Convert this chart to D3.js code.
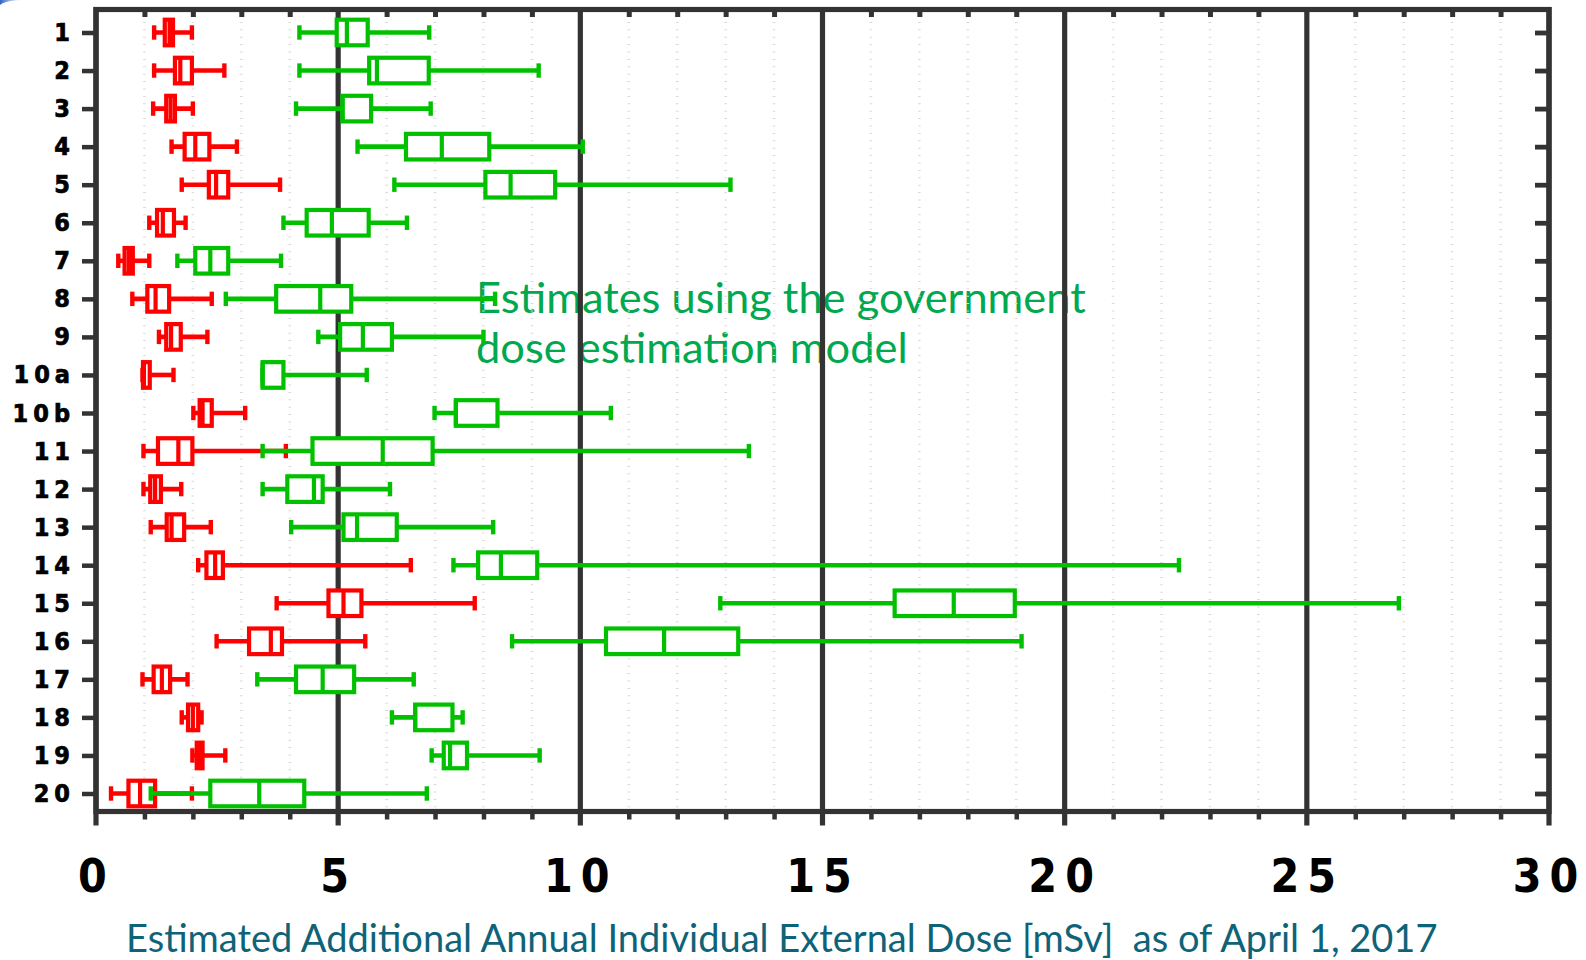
<!DOCTYPE html>
<html>
<head>
<meta charset="utf-8">
<script src="https://cdn.jsdelivr.net/npm/d3@7"></script>
<style>
  body { margin: 0; background: #ffffff; }
  svg { display: block; }
</style>
</head>
<body>
<svg id="chart" width="1586" height="960"></svg>
<script>
// Areas (rows, top to bottom)
const areas = ["1","2","3","4","5","6","7","8","9","10a","10b","11","12","13","14","15","16","17","18","19","20"];

// Red series: measured doses [mSv] — whisker low, Q1, median, Q3, whisker high
const measuredMin = [1.20,1.20,1.18,1.56,1.77,1.10,0.46,0.75,1.30,0.96,2.01,0.98,0.98,1.13,2.11,3.73,2.49,0.96,1.77,1.99,0.31];
const measuredQ1  = [1.42,1.63,1.45,1.83,2.33,1.26,0.59,1.06,1.45,0.97,2.14,1.28,1.12,1.46,2.28,4.80,3.16,1.19,1.90,2.08,0.67];
const measuredMed = [1.52,1.74,1.54,2.05,2.48,1.38,0.68,1.23,1.55,0.99,2.20,1.70,1.22,1.56,2.46,5.11,3.61,1.36,2.00,2.13,0.91];
const measuredQ3  = [1.59,1.98,1.63,2.34,2.73,1.61,0.76,1.51,1.75,1.11,2.39,1.99,1.34,1.82,2.62,5.48,3.84,1.53,2.11,2.20,1.22];
const measuredMax = [1.98,2.65,2.00,2.91,3.80,1.85,1.10,2.39,2.30,1.60,3.08,3.92,1.76,2.37,6.50,7.82,5.56,1.89,2.18,2.67,1.98];

// Green series: government dose estimation model [mSv]
const modelMin = [4.20,4.20,4.13,5.40,6.16,3.87,1.68,2.68,4.59,3.44,6.99,3.44,3.44,4.03,7.38,12.89,8.59,3.33,6.11,6.93,1.13];
const modelQ1  = [4.97,5.64,5.09,6.40,8.04,4.35,2.05,3.72,5.04,3.44,7.43,4.47,3.95,5.11,7.89,16.49,10.53,4.13,6.59,7.18,2.36];
const modelMed = [5.18,5.80,5.09,7.14,8.56,4.87,2.36,4.63,5.51,3.44,7.43,5.92,4.50,5.39,8.36,17.71,11.73,4.68,6.59,7.31,3.37];
const modelQ3  = [5.61,6.87,5.68,8.12,9.48,5.63,2.73,5.27,6.11,3.87,8.29,6.95,4.68,6.21,9.11,18.97,13.26,5.33,7.36,7.66,4.30];
const modelMax = [6.88,9.14,6.91,10.05,13.10,6.42,3.82,8.24,8.00,5.59,10.63,13.48,6.07,8.20,22.36,26.90,19.11,6.56,7.57,9.16,6.83];

// Axis ticks
const majorTicks = [0,5,10,15,20,25,30];
const minorTicks = d3.range(1,30).filter(v => v % 5 !== 0);

const annotationLines = ["Estimates using the government", "dose estimation model"];
const xTitle = "Estimated Additional Annual Individual External Dose [mSv]  as of April 1, 2017";

const svg = d3.select("#chart");
const frameTop = 9.5, frameBottom = 811.5;
const x = d3.scaleLinear().domain([0, 30]).range([96, 1549]);
const y = d3.scalePoint().domain(areas).range([32.5, 793.5]);

const frameColor = "#333333";
const red = "#ff0000", green = "#00c000";

// small blue corner accent
const defs = svg.append("defs");
const grad = defs.append("linearGradient").attr("id", "cornerGrad");
grad.append("stop").attr("offset", "0%").attr("stop-color", "#2f62c8");
grad.append("stop").attr("offset", "100%").attr("stop-color", "#9fc0ef").attr("stop-opacity", 0);
svg.append("path").attr("d", "M0,5 Q6,0 26,0 L0,0 Z").attr("fill", "url(#cornerGrad)");

// annotation text (sits beneath the grid)
const ann = svg.append("g").attr("font-family", "Lato, 'Open Sans', sans-serif")
  .attr("fill", "#00a84f");
const annText = ann.selectAll("text").data(annotationLines).join("text")
  .attr("x", 476)
  .attr("y", (d, i) => 313 + i * 50)
  .attr("font-size", 40)
  .text(d => d);
{
  const w = annText.nodes()[0].getComputedTextLength();
  annText.attr("font-size", 40 * 610 / w);
}

// dotted minor grid
svg.append("g").selectAll("line").data(minorTicks).join("line")
  .attr("x1", d => x(d)).attr("x2", d => x(d))
  .attr("y1", frameTop + 5).attr("y2", frameBottom - 3)
  .attr("stroke", "#d9d9d9").attr("stroke-width", 2.6)
  .attr("stroke-dasharray", "1 6.4");

// major grid lines, extending below the frame as ticks
svg.append("g").selectAll("line").data(majorTicks).join("line")
  .attr("x1", d => x(d)).attr("x2", d => x(d))
  .attr("y1", frameTop - 2.5).attr("y2", frameBottom + 14)
  .attr("stroke", frameColor).attr("stroke-width", 5.2);

// frame
svg.append("rect")
  .attr("x", x(0)).attr("y", frameTop)
  .attr("width", x(30) - x(0)).attr("height", frameBottom - frameTop)
  .attr("fill", "none").attr("stroke", frameColor).attr("stroke-width", 5.2);

// bottom minor ticks (outward)
svg.append("g").attr("transform", `translate(0,${frameBottom})`)
  .call(d3.axisBottom(x).tickValues(minorTicks).tickSize(8).tickFormat(""))
  .call(g => g.select(".domain").remove())
  .call(g => g.selectAll("line").attr("stroke", frameColor).attr("stroke-width", 4.5));

// top minor ticks (inward)
svg.append("g").attr("transform", `translate(0,${frameTop})`)
  .call(d3.axisBottom(x).tickValues(minorTicks).tickSize(7.5).tickFormat(""))
  .call(g => g.select(".domain").remove())
  .call(g => g.selectAll("line").attr("stroke", frameColor).attr("stroke-width", 5));

// bottom tick labels
svg.append("g").attr("transform", `translate(0,${frameBottom})`)
  .call(d3.axisBottom(x).tickValues(majorTicks).tickSize(0).tickFormat(d3.format("d")))
  .call(g => g.select(".domain").remove())
  .call(g => g.selectAll("text")
    .attr("y", 80).attr("dy", 0)
    .attr("fill", "#000")
    .attr("font-family", "'DejaVu Sans Condensed', 'DejaVu Sans', sans-serif")
    .attr("font-weight", "bold")
    .attr("font-size", 46)
    .style("letter-spacing", "8px"));

// left row ticks and labels
svg.append("g").attr("transform", `translate(${x(0)},0)`)
  .call(d3.axisLeft(y).tickSize(14).tickPadding(7))
  .call(g => g.select(".domain").remove())
  .call(g => g.selectAll("line").attr("stroke", frameColor).attr("stroke-width", 4.5))
  .call(g => g.selectAll("text")
    .attr("fill", "#000")
    .attr("stroke", "#000").attr("stroke-width", 0.7)
    .attr("font-family", "'DejaVu Sans Condensed', 'DejaVu Sans', sans-serif")
    .attr("font-weight", "bold")
    .attr("font-size", 25)
    .style("letter-spacing", "5px"));

// right row ticks (inward)
svg.append("g").attr("transform", `translate(${x(30)},0)`)
  .call(d3.axisRight(y).tickSize(-14).tickFormat(""))
  .call(g => g.select(".domain").remove())
  .call(g => g.selectAll("line").attr("stroke", frameColor).attr("stroke-width", 4.8));

// box plots
const boxHalf = 12.8, capHalf = 7.2;
function drawBoxes(cls, color, mins, q1s, meds, q3s, maxs) {
  const rows = areas.map((a, i) => ({ a, lo: mins[i], q1: q1s[i], md: meds[i], q3: q3s[i], hi: maxs[i] }));
  const g = svg.append("g").attr("class", cls);
  const r = g.selectAll("g").data(rows).join("g")
    .attr("transform", d => `translate(0,${y(d.a)})`);
  r.append("line")
    .attr("x1", d => x(d.lo)).attr("x2", d => x(d.hi))
    .attr("stroke", color).attr("stroke-width", 4.6);
  r.append("line")
    .attr("x1", d => x(d.lo)).attr("x2", d => x(d.lo))
    .attr("y1", -capHalf).attr("y2", capHalf)
    .attr("stroke", color).attr("stroke-width", 4.4);
  r.append("line")
    .attr("x1", d => x(d.hi)).attr("x2", d => x(d.hi))
    .attr("y1", -capHalf).attr("y2", capHalf)
    .attr("stroke", color).attr("stroke-width", 4.4);
  r.append("rect")
    .attr("x", d => x(d.q1)).attr("y", -boxHalf)
    .attr("width", d => x(d.q3) - x(d.q1)).attr("height", 2 * boxHalf)
    .attr("fill", "#ffffff").attr("stroke", color).attr("stroke-width", 4.2);
  r.append("line")
    .attr("x1", d => x(d.md)).attr("x2", d => x(d.md))
    .attr("y1", -boxHalf).attr("y2", boxHalf)
    .attr("stroke", color).attr("stroke-width", 4.2);
}
drawBoxes("measured", red, measuredMin, measuredQ1, measuredMed, measuredQ3, measuredMax);
drawBoxes("model", green, modelMin, modelQ1, modelMed, modelQ3, modelMax);

// x-axis title
const title = svg.append("text")
  .attr("x", 126).attr("y", 952)
  .attr("fill", "#0f6378")
  .attr("font-family", "Lato, 'Open Sans', sans-serif")
  .attr("font-size", 34)
  .style("white-space", "pre")
  .text(xTitle);
{
  const w = title.node().getComputedTextLength();
  title.attr("font-size", 34 * 1312 / w);
}
</script>
</body>
</html>
